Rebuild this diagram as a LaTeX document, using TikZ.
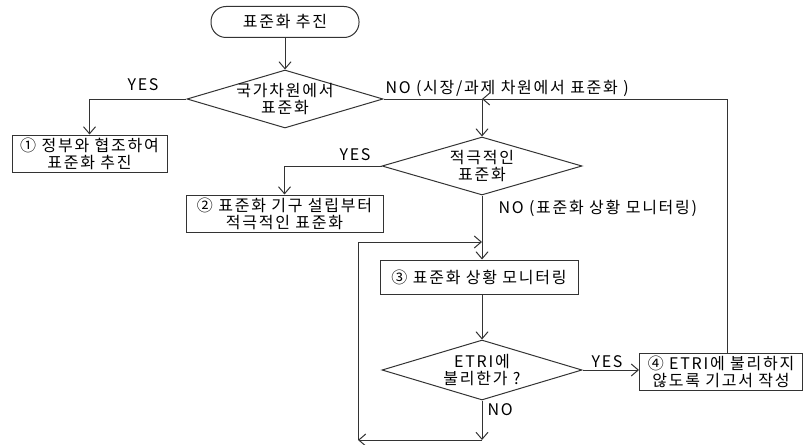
\documentclass[tikz,border=0pt]{standalone}
\usepackage{fontspec}
\setmainfont{Noto Sans CJK KR}[LetterSpace=11]
\usetikzlibrary{shapes.geometric,arrows.meta}

\begin{document}
\begin{tikzpicture}[x=1pt, y=-1pt, line width=1pt, draw=black!80,
                    >={Straight Barb[length=7pt,width=12pt]},
                    every node/.style={font=\fontsize{16}{17}\selectfont},
                    main node/.style={rectangle,draw=black!80,align=center,inner sep=0pt,minimum height=37pt},
                    start node/.style={main node,rounded corners=15pt,minimum width=148pt,minimum height=31pt},
                    test node/.style={diamond,draw=black!80,align=center,aspect=3.4,inner xsep=0pt,inner ysep=-6pt}]

  \useasboundingbox (0,0) rectangle (805,444);

  \node[start node] (1) at (285,22) {표준화 추진};
  \node[test node,minimum width=196pt,minimum height=58pt] (2) at (285,99) {국가차원에서\\표준화};
  \node[main node,minimum width=155pt] (3) at (89.5,153.5) {① 정부와 협조하여\\표준화 추진};
  \node[test node,minimum width=200pt,minimum height=58pt] (4) at (482,166) {적극적인\\표준화};
  \node[main node,minimum width=197pt] (5) at (284.5,213.5) {② 표준화 기구 설립부터\\적극적인 표준화};
  \node[main node,minimum width=198pt,minimum height=34pt] (6) at (479,277) {③ 표준화 상황 모니터링};
  \node[test node,minimum width=200pt,minimum height=60pt] (7) at (482,370) {ETRI에\\불리한가 ?};
  \node[main node,minimum width=163pt] (8) at (721,371.5) {④ ETRI에 불리하지\\않도록 기고서 작성};

  % labels
  \node (9) at (143,85) {YES};
  \node[anchor=west,inner xsep=0pt] (10) at (385,88) {NO (시장/과제 차원에서 표준화 )};
  \node (11) at (355,155) {YES};
  \node[anchor=west,inner xsep=0pt] (12) at (498,208) {NO (표준화 상황 모니터링)};
  \node (13) at (607,362) {YES};
  \node[anchor=west,inner xsep=0pt] (14) at (487,410) {NO};

  % corners of the loops
  \coordinate (a) at (482,99);
  \coordinate (b) at (727,99);
  \coordinate (c) at (482,242);
  \coordinate (d) at (482,440);
  \coordinate (e) at (358,440);

\path[->]
     (1) edge (2)
     (4) edge (4 |- 6.north)
     (7 |- 6.south) edge (7)
     (7) edge (7 -| 8.west)
     (7) edge (d)
     (d) edge (e)
   ;

  \draw[->] (2) -| (3);
  \draw[->] (2) -| (4);
  \draw[->] (4) -| (5);
  \draw[->] (8.north -| b) |- (a);
  \draw[->] (e) |- (c);

\end{tikzpicture}
\end{document}
